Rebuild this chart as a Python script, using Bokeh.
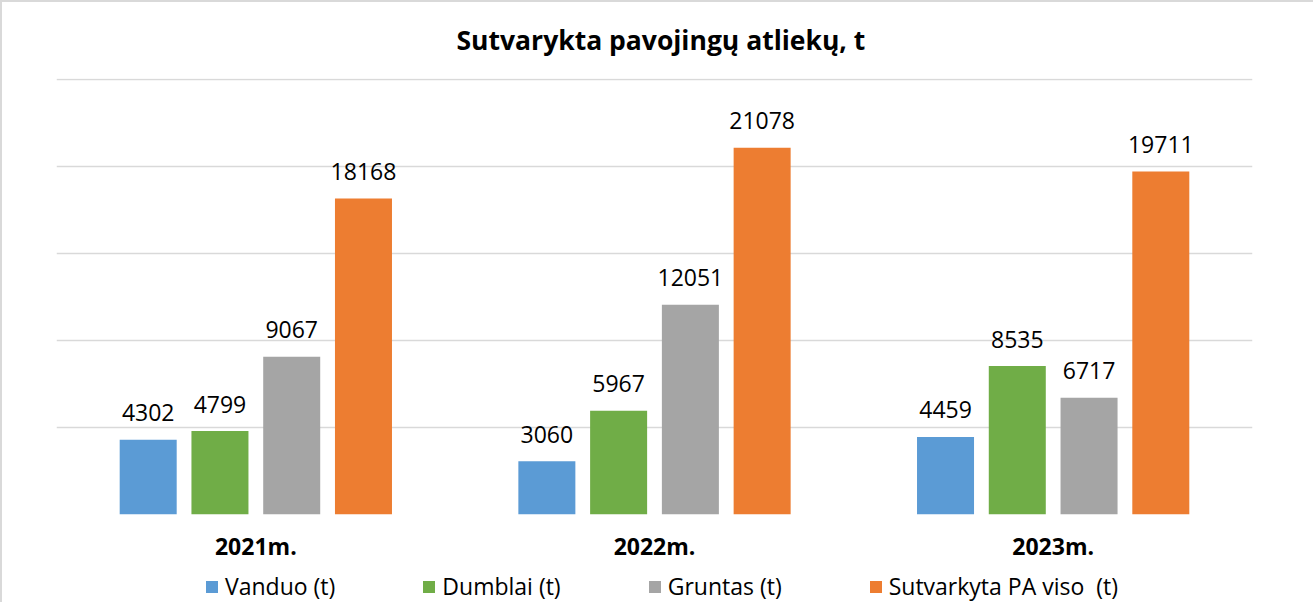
from bokeh.plotting import figure
from bokeh.layouts import column
from bokeh.models import ColumnDataSource, FactorRange, Range1d, FixedTicker, Legend, LegendItem, Title
from bokeh.transform import dodge
from bokeh.core.properties import value
from bokeh.embed import file_html
from bokeh.resources import INLINE

years = ["2021m.", "2022m.", "2023m."]
vanduo = [4302, 3060, 4459]
dumblai = [4799, 5967, 8535]
gruntas = [9067, 12051, 6717]
viso = [18168, 21078, 19711]
series_names = ["Vanduo (t)", "Dumblai (t)", "Gruntas (t)", "Sutvarkyta PA viso  (t)"]
colors = ["#5B9BD5", "#70AD47", "#A5A5A5", "#ED7D31"]
grid_ticks = [0, 5000, 10000, 15000, 20000, 25000]

FONT = "Open Sans"
BORDER = {"border-left": "2px solid #d9d9d9"}

src = ColumnDataSource(dict(
    year=years, vanduo=vanduo, dumblai=dumblai, gruntas=gruntas, viso=viso,
    vanduo_s=[str(v) for v in vanduo], dumblai_s=[str(v) for v in dumblai],
    gruntas_s=[str(v) for v in gruntas], viso_s=[str(v) for v in viso],
))

xr = FactorRange(*years, range_padding=0)
p = figure(x_range=xr, y_range=Range1d(0, 25060),
           width=1313, height=564, output_backend="svg", toolbar_location=None,
           min_border_left=54, min_border_right=63, min_border_top=76, min_border_bottom=52)
p.title = Title(text="Sutvarykta pavojingų atliekų, t", align="left", offset=400,
                vertical_align="top",
                text_font=FONT, text_font_size="26.5px", text_font_style="bold",
                text_color="#000000", standoff=37)
p.outline_line_color = None
p.yaxis.visible = False
p.xgrid.grid_line_color = None
p.ygrid.ticker = FixedTicker(ticks=grid_ticks)
p.ygrid.grid_line_color = "#d9d9d9"
p.ygrid.grid_line_width = 1.5
p.xaxis.axis_line_color = None
p.xaxis.major_tick_line_color = None
p.xaxis.minor_tick_line_color = None
p.xaxis.major_label_text_font = FONT
p.xaxis.major_label_text_font_size = "23px"
p.xaxis.major_label_text_font_style = "bold"
p.xaxis.major_label_text_color = "#000000"
p.xaxis.major_label_standoff = 9
p.styles = {"border-left": "2px solid #d9d9d9", "border-top": "2px solid #d9d9d9"}

# legend strip (same series; its bars have no width and lie outside its y range)
lf = figure(x_range=xr, y_range=Range1d(-2, -1), width=1313, height=38,
            output_backend="svg", toolbar_location=None, min_border=0)
lf.axis.visible = False
lf.grid.visible = False
lf.outline_line_color = None
lf.styles = BORDER

cols = ["vanduo", "dumblai", "gruntas", "viso"]
offsets = [-0.27, -0.09, 0.09, 0.27]
items = []
for col, off, c, name in zip(cols, offsets, colors, series_names):
    p.vbar(x=dodge("year", off, range=xr), top=col, width=0.143, source=src,
           fill_color=c, line_color=None)
    p.text(x=dodge("year", off, range=xr), y=col, text=col + "_s", source=src,
           text_align="center", text_baseline="alphabetic", y_offset=-27,
           text_font=value(FONT), text_font_size="23px", text_color="#000000")
    r = lf.vbar(x=dodge("year", off, range=xr), top=col, width=0, source=src,
                fill_color=c, line_color=None)
    items.append(LegendItem(label=name, renderers=[r]))

lg = Legend(items=items, location=(148, 0), orientation="horizontal",
            glyph_width=15, glyph_height=15, label_standoff=6,
            padding=0, margin=0, spacing=86, background_fill_alpha=0, border_line_color=None,
            label_text_font=FONT, label_text_font_size="23px", label_text_color="#000000")
lf.add_layout(lg, "center")

layout = column(p, lf, spacing=0)
open("out.html", "w").write(file_html(layout, INLINE))
